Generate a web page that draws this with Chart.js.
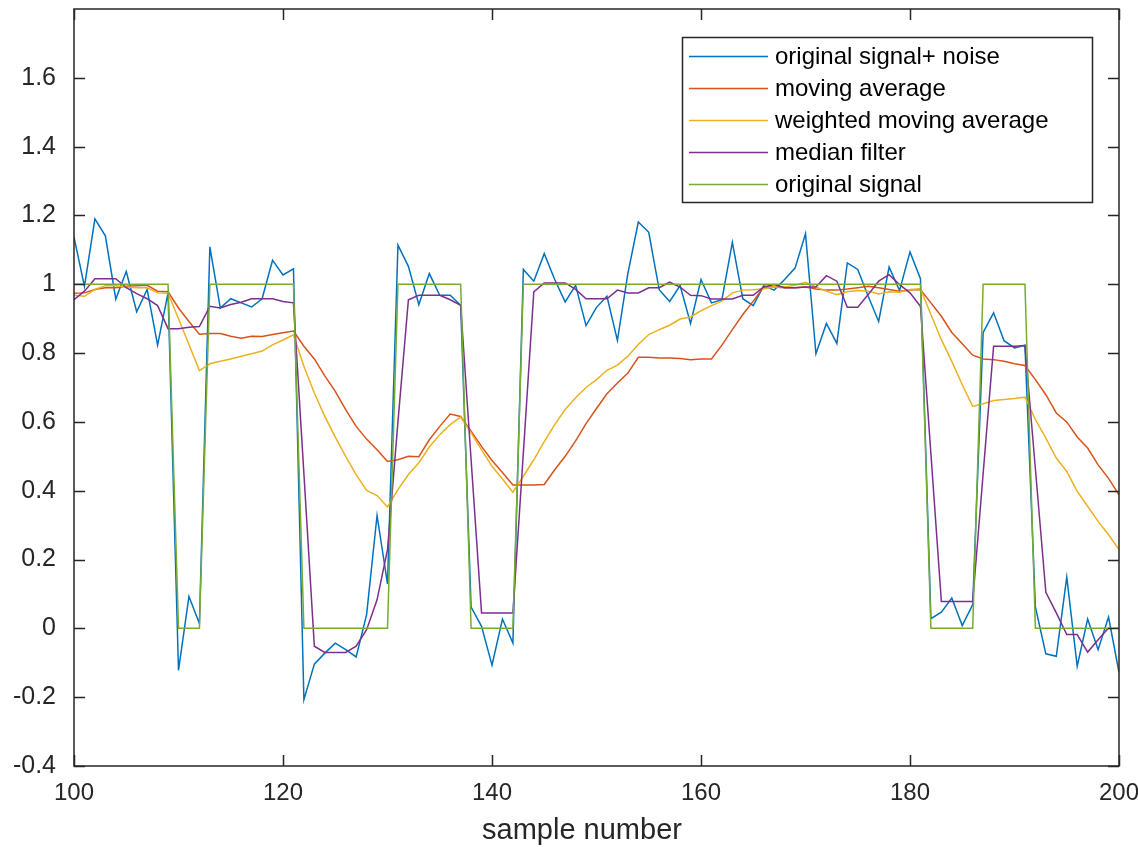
<!DOCTYPE html>
<html>
<head>
<meta charset="utf-8">
<title>Filter comparison</title>
<script src="https://cdn.jsdelivr.net/npm/chart.js@4"></script>
<style>
  html, body { margin: 0; padding: 0; background: #fff; }
  #wrap { width: 1138px; height: 847px; }
</style>
</head>
<body>
<div id="wrap"><canvas id="chart"></canvas></div>
<script>
// sample numbers 100..200
const SAMPLES = Array.from({ length: 101 }, (_, i) => 100 + i);

const X_TICKS = [100, 120, 140, 160, 180, 200];
const Y_TICKS = [-0.4, -0.2, 0, 0.2, 0.4, 0.6, 0.8, 1, 1.2, 1.4, 1.6];

const NOISY = [
  1.137, 0.994, 1.19, 1.141, 0.957, 1.037, 0.92, 0.985, 0.823, 0.975,
  -0.122, 0.093, 0.014, 1.109, 0.931, 0.958, 0.946, 0.934, 0.958, 1.07,
  1.027, 1.045, -0.207, -0.104, -0.072, -0.043, -0.062, -0.083, 0.04, 0.328,
  0.129, 1.114, 1.052, 0.941, 1.031, 0.968, 0.968, 0.939, 0.062, 0.006,
  -0.107, 0.027, -0.043, 1.043, 1.009, 1.089, 1.014, 0.949, 0.997, 0.88,
  0.933, 0.965, 0.837, 1.031, 1.181, 1.151, 0.984, 0.95, 0.996, 0.886,
  1.014, 0.946, 0.955, 1.122, 0.958, 0.938, 0.996, 0.983, 1.014, 1.047,
  1.147, 0.798, 0.886, 0.828, 1.062, 1.043, 0.965, 0.892, 1.05, 0.982,
  1.094, 1.016, 0.028, 0.047, 0.088, 0.008, 0.069, 0.86, 0.917, 0.836,
  0.815, 0.823, 0.062, -0.074, -0.081, 0.149, -0.11, 0.027, -0.062, 0.033,
  -0.128
];

const MOVING_AVG = [
  0.974, 0.975, 0.985, 0.99, 0.99, 0.994, 0.996, 0.997, 0.98, 0.978,
  0.931, 0.892, 0.855, 0.857, 0.857, 0.849, 0.843, 0.849, 0.848, 0.854,
  0.859, 0.864, 0.82, 0.783, 0.734, 0.689, 0.636, 0.587, 0.55, 0.519,
  0.485, 0.49, 0.5, 0.499, 0.548, 0.587, 0.623, 0.616, 0.573, 0.529,
  0.488, 0.453, 0.417, 0.417, 0.417, 0.418, 0.461, 0.5, 0.545, 0.595,
  0.639, 0.682, 0.713, 0.742, 0.788, 0.788, 0.786, 0.786, 0.784, 0.781,
  0.783, 0.783, 0.823, 0.868, 0.912, 0.951, 0.992, 0.992, 0.99, 0.99,
  0.992, 0.986, 0.983, 0.983, 0.986, 0.99, 0.994, 0.99, 0.985, 0.98,
  0.983, 0.985, 0.946, 0.907, 0.86, 0.827, 0.794, 0.783, 0.781, 0.776,
  0.769, 0.764, 0.723, 0.679, 0.626, 0.6, 0.556, 0.524, 0.475, 0.436,
  0.388
];

const WEIGHTED_AVG = [
  0.968, 0.965, 0.985, 0.996, 0.996, 0.992, 0.99, 0.99, 0.975, 0.974,
  0.9, 0.825, 0.749, 0.769, 0.776, 0.783, 0.791, 0.798, 0.806, 0.824,
  0.838, 0.853, 0.762, 0.684, 0.616, 0.556, 0.5, 0.447, 0.401, 0.386,
  0.353, 0.403, 0.447, 0.481, 0.527, 0.563, 0.592, 0.614, 0.568, 0.519,
  0.471, 0.434, 0.396, 0.442, 0.49, 0.543, 0.592, 0.636, 0.67, 0.7,
  0.723, 0.75, 0.765, 0.791, 0.825, 0.854, 0.868, 0.881, 0.899, 0.905,
  0.923, 0.938, 0.951, 0.975, 0.983, 0.984, 0.987, 0.992, 0.992, 0.997,
  1.006, 0.992, 0.98, 0.97, 0.978, 0.982, 0.98, 0.972, 0.978, 0.977,
  0.985, 0.987, 0.912, 0.839, 0.776, 0.708, 0.645, 0.653, 0.662, 0.665,
  0.668, 0.672, 0.607, 0.553, 0.495, 0.456, 0.398, 0.355, 0.311, 0.272,
  0.229
];

const MEDIAN = [
  0.955, 0.98, 1.016, 1.016, 1.016, 0.99, 0.973, 0.958, 0.938, 0.871,
  0.871, 0.875, 0.877, 0.936, 0.931, 0.941, 0.948, 0.958, 0.958, 0.958,
  0.95, 0.946, 0.45, -0.052, -0.07, -0.07, -0.07, -0.052, -0.004, 0.083,
  0.229, 0.6, 0.955, 0.968, 0.968, 0.968, 0.955, 0.939, 0.49, 0.045,
  0.045, 0.045, 0.045, 0.51, 0.978, 1.004, 1.004, 1.004, 0.985, 0.958,
  0.958, 0.958, 0.983, 0.975, 0.975, 0.99, 0.99, 1.006, 0.992, 0.968,
  0.967, 0.957, 0.957, 0.957, 0.968, 0.968, 0.992, 0.999, 0.99, 0.99,
  0.992, 0.992, 1.025, 1.009, 0.933, 0.933, 0.97, 1.009, 1.028, 0.999,
  0.975, 0.936, 0.508, 0.078, 0.078, 0.078, 0.078, 0.45, 0.82, 0.82,
  0.82, 0.822, 0.463, 0.105, 0.045, -0.018, -0.018, -0.069, -0.033, 0.001,
  null
];

const ORIGINAL = [
  1, 1, 1, 1, 1, 1, 1, 1, 1, 1,
  0, 0, 0, 1, 1, 1, 1, 1, 1, 1,
  1, 1, 0, 0, 0, 0, 0, 0, 0, 0,
  0, 1, 1, 1, 1, 1, 1, 1, 0, 0,
  0, 0, 0, 1, 1, 1, 1, 1, 1, 1,
  1, 1, 1, 1, 1, 1, 1, 1, 1, 1,
  1, 1, 1, 1, 1, 1, 1, 1, 1, 1,
  1, 1, 1, 1, 1, 1, 1, 1, 1, 1,
  1, 1, 0, 0, 0, 0, 0, 1, 1, 1,
  1, 1, 0, 0, 0, 0, 0, 0, 0, 0,
  0
];

const FONT = '"Liberation Sans", Arial, Helvetica, sans-serif';
const INK = '#262626';
const TICK_LEN = 11;

function toPoints(values) {
    return SAMPLES.map((s, i) => ({ x: s, y: values[i] }));
}

function makeLine(label, values, color, order) {
    return {
        label: label,
        data: toPoints(values),
        borderColor: color,
        backgroundColor: color,
        borderWidth: 1.5,
        pointRadius: 0,
        tension: 0,
        fill: false,
        spanGaps: false,
        order: order
    };
}

// draws the boxed axes with inward ticks, the x label and the legend
const matlabAxes = {
    id: 'matlabAxes',
    afterDraw(chart) {
        const { ctx, chartArea: a, scales: { x, y } } = chart;
        ctx.save();
        ctx.strokeStyle = INK;
        ctx.lineWidth = 1.5;
        ctx.strokeRect(a.left, a.top, a.right - a.left, a.bottom - a.top);

        ctx.beginPath();
        X_TICKS.forEach(v => {
            const px = Math.round(x.getPixelForValue(v)) + 0.5;
            ctx.moveTo(px, a.bottom); ctx.lineTo(px, a.bottom - TICK_LEN);
            ctx.moveTo(px, a.top); ctx.lineTo(px, a.top + TICK_LEN);
        });
        Y_TICKS.forEach(v => {
            const py = Math.round(y.getPixelForValue(v)) + 0.5;
            ctx.moveTo(a.left, py); ctx.lineTo(a.left + TICK_LEN, py);
            ctx.moveTo(a.right, py); ctx.lineTo(a.right - TICK_LEN, py);
        });
        ctx.stroke();

        // x axis title
        ctx.fillStyle = INK;
        ctx.font = '29px ' + FONT;
        ctx.textAlign = 'center';
        ctx.textBaseline = 'middle';
        ctx.fillText('sample number', 582, 831);

        // legend
        const box = { left: 682.5, top: 37.5, width: 410, height: 165 };
        ctx.fillStyle = '#fff';
        ctx.fillRect(box.left, box.top, box.width, box.height);
        ctx.lineWidth = 1.5;
        ctx.strokeStyle = INK;
        ctx.strokeRect(box.left, box.top, box.width, box.height);

        ctx.font = '24px ' + FONT;
        ctx.textAlign = 'left';
        chart.data.datasets.forEach((ds, i) => {
            const rowY = 56 + i * 32;
            ctx.strokeStyle = ds.borderColor;
            ctx.lineWidth = 1.5;
            ctx.beginPath();
            ctx.moveTo(689, rowY + 0.5);
            ctx.lineTo(768, rowY + 0.5);
            ctx.stroke();
            ctx.fillStyle = '#000';
            ctx.fillText(ds.label, 775, rowY + 1);
        });
        ctx.restore();
    }
};

new Chart(document.getElementById('chart'), {
    type: 'line',
    data: {
        datasets: [
            makeLine('original signal+ noise', NOISY, '#0072BD', 5),
            makeLine('moving average', MOVING_AVG, '#D95319', 4),
            makeLine('weighted moving average', WEIGHTED_AVG, '#EDB120', 3),
            makeLine('median filter', MEDIAN, '#7E2F8E', 2),
            makeLine('original signal', ORIGINAL, '#77AC30', 1)
        ]
    },
    options: {
        responsive: true,
        maintainAspectRatio: false,
        animation: false,
        devicePixelRatio: 1,
        layout: { padding: { top: 9, right: 19, left: 0, bottom: 0 } },
        plugins: {
            legend: { display: false },
            tooltip: { enabled: false }
        },
        scales: {
            x: {
                type: 'linear',
                min: 100,
                max: 200,
                afterBuildTicks: s => { s.ticks = X_TICKS.map(v => ({ value: v })); },
                afterFit: s => { s.height = 81; s.paddingLeft = 0; s.paddingRight = 0; },
                ticks: {
                    font: { family: FONT, size: 24 },
                    color: INK,
                    padding: 13,
                    maxRotation: 0,
                    autoSkip: false
                },
                grid: { display: false, drawTicks: false },
                border: { display: false }
            },
            y: {
                min: -0.4,
                max: 1.8,
                afterBuildTicks: s => { s.ticks = Y_TICKS.map(v => ({ value: v })); },
                afterFit: s => { s.width = 74; s.paddingTop = 0; s.paddingBottom = 0; },
                ticks: {
                    font: { family: FONT, size: 25 },
                    color: INK,
                    padding: 18,
                    callback: v => String(Math.round(v * 10) / 10)
                },
                grid: { display: false, drawTicks: false },
                border: { display: false }
            }
        }
    },
    plugins: [matlabAxes]
});
</script>
</body>
</html>
